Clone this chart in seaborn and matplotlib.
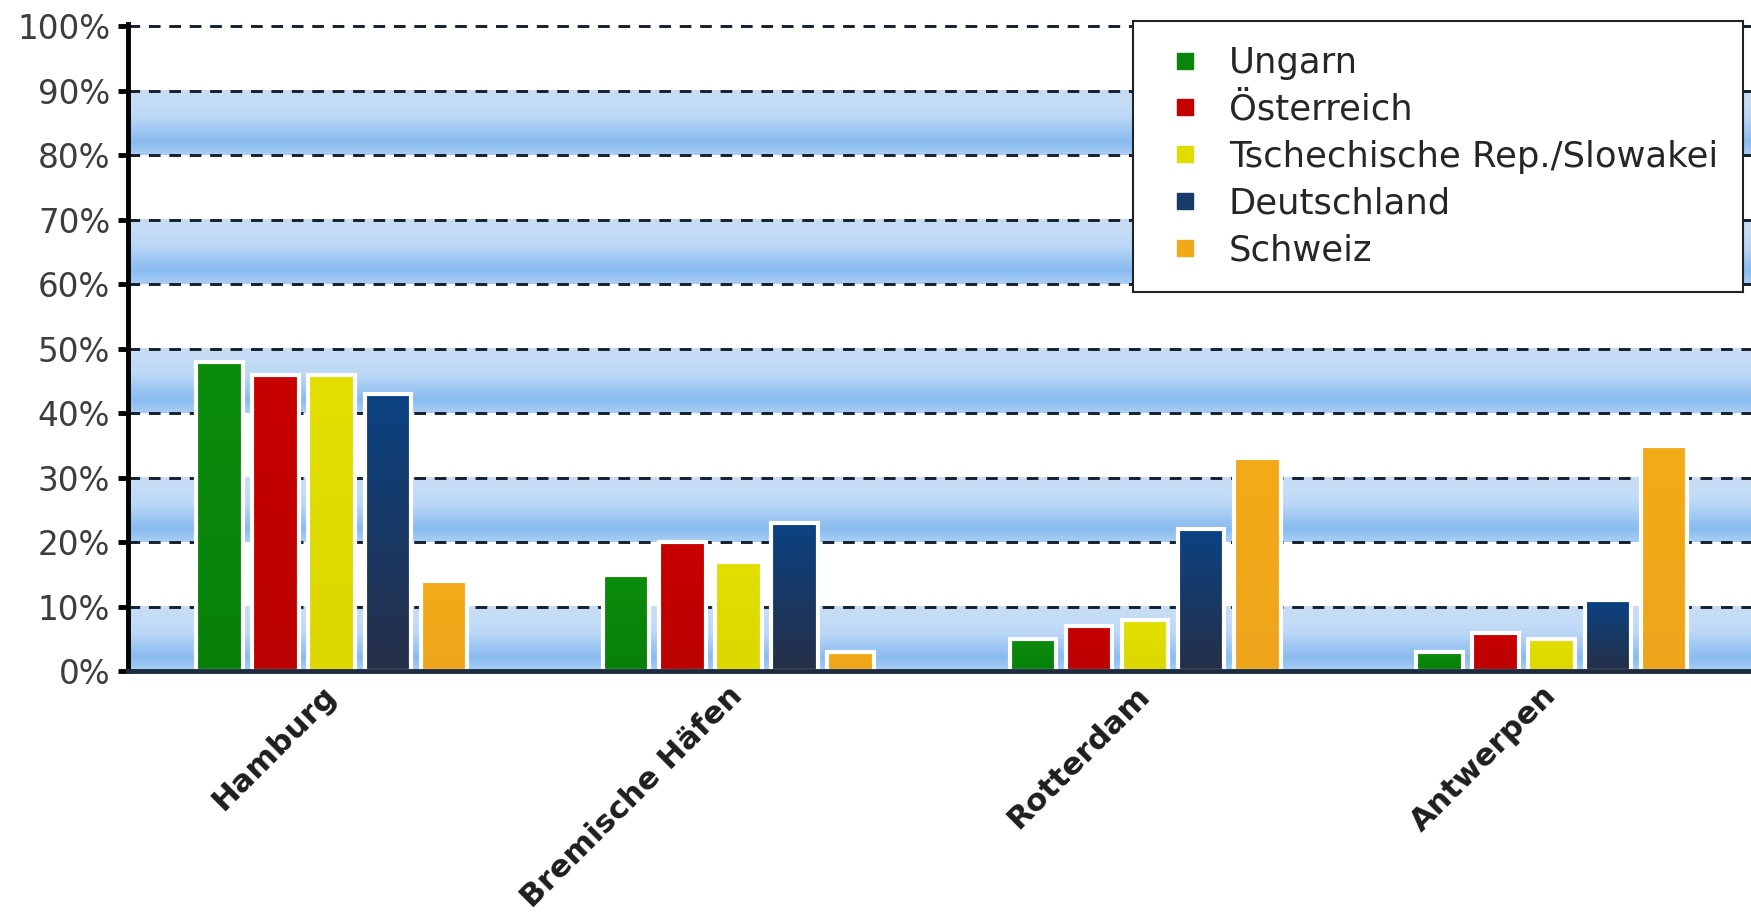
import numpy as np
import pandas as pd
import matplotlib
matplotlib.use("Agg")
import matplotlib.pyplot as plt
import seaborn as sns
from matplotlib.colors import to_rgb
from matplotlib.lines import Line2D

# Anteil je Hafen und Herkunftsland (in %)
ports = ["Hamburg", "Bremische Häfen", "Rotterdam", "Antwerpen"]
countries = ["Ungarn", "Österreich", "Tschechische Rep./Slowakei", "Deutschland", "Schweiz"]
ungarn = [48, 15, 5, 3]
oesterreich = [46, 20, 7, 6]
tschechien = [46, 17, 8, 5]
deutschland = [43, 23, 22, 11]
schweiz = [14, 3, 33, 35]
yticks = list(range(0, 101, 10))

colors = ["#0a870a", "#c40000", "#e0dc00", "#1a3a6a", "#f2a919"]
# top / bottom colours for the bar gradients
grad = {
    "Ungarn": ("#0b8c0b", "#07800a"),
    "Österreich": ("#c80000", "#bb0202"),
    "Tschechische Rep./Slowakei": ("#e2df00", "#dcd800"),
    "Deutschland": ("#0b4282", "#262f48"),
    "Schweiz": ("#f3ab18", "#eea51c"),
}

df = pd.DataFrame({
    "port": ports * 5,
    "country": np.repeat(countries, len(ports)),
    "share": ungarn + oesterreich + tschechien + deutschland + schweiz,
})

sns.set_theme(style="white")
plt.rcParams["font.family"] = ["DejaVu Sans"]

fig = plt.figure(figsize=(17.51, 9.17), dpi=100)
ax = fig.add_axes([0.0733, 0.268, 0.9267, 0.706])
XLIM = (-0.5, 3.49)
YLIM = (0, 100.4)

# blue background bands (0-10, 20-30, ...)
band = np.array([to_rgb(c) for c in ["#c8ddf4", "#c4dcf6", "#bcd8f7", "#a2c9f3", "#88bbf0", "#a9cef5"]])
pos = np.linspace(0, 1, len(band))
t = np.linspace(0, 1, 60)
bg = np.stack([np.interp(t, pos, band[:, i]) for i in range(3)], axis=-1)[:, None, :]
for lo in range(0, 100, 20):
    ax.imshow(bg, extent=(XLIM[0], XLIM[1], lo, lo + 10), aspect="auto", zorder=0,
              interpolation="bilinear")

sns.barplot(data=df, x="port", y="share", hue="country", order=ports, hue_order=countries,
            palette=colors, width=0.69, gap=0.17, edgecolor="white", linewidth=3,
            legend=False, ax=ax)

# vertical gradient inside each bar
for cont, name in zip(ax.containers, countries):
    top, bot = grad[name]
    g = np.linspace(0, 1, 50)[:, None]
    img = (1 - g) * np.array(to_rgb(top)) + g * np.array(to_rgb(bot))
    img = img[:, None, :]
    for p in cont.patches:
        x0, y0 = p.get_x(), p.get_y()
        w, h = p.get_width(), p.get_height()
        im = ax.imshow(img, extent=(x0, x0 + w, y0, y0 + h), aspect="auto", zorder=1.1,
                       interpolation="bilinear")
        im.set_clip_path(p)
        p.set_facecolor("none")
        p.set_zorder(1.2)

ax.set_xlim(*XLIM)
ax.set_ylim(*YLIM)
ax.set_axisbelow(True)
ax.set_yticks(yticks)
ax.set_yticklabels([f"{v}%" for v in yticks])
ax.yaxis.grid(True, linestyle=(0, (4, 3)), color="#15202e", linewidth=2.1)
ax.xaxis.grid(False)
ax.set_xlabel("")
ax.set_ylabel("")

for s in ["top", "right"]:
    ax.spines[s].set_visible(False)
ax.spines["left"].set_color("black")
ax.spines["left"].set_linewidth(3.5)
ax.spines["bottom"].set_color("#1d2c40")
ax.spines["bottom"].set_linewidth(3.5)

ax.tick_params(axis="y", direction="out", length=7, width=3.5, color="black",
               labelsize=23.5, labelcolor="#3d3d3d", pad=6, left=True)
ax.tick_params(axis="x", length=0, pad=14)
for lab in ax.get_xticklabels():
    lab.set_rotation(45)
    lab.set_ha("right")
    lab.set_va("center")
    lab.set_rotation_mode("anchor")
    lab.set_fontsize(22.5)
    lab.set_fontweight("bold")
    lab.set_color("#1e1e1e")

handles = [Line2D([], [], linestyle="none", marker="s", markersize=11.5,
                  markerfacecolor=c, markeredgecolor=c) for c in colors]
leg = ax.legend(handles, countries, loc="upper right", bbox_to_anchor=(0.995, 1.004),
                borderaxespad=0, fontsize=25.5, frameon=True, fancybox=False,
                handlelength=1.5, handletextpad=0.5, labelspacing=0.36, borderpad=0.7)
leg.get_frame().set_edgecolor("#222222")
leg.get_frame().set_linewidth(1.5)
leg.get_frame().set_facecolor("white")
leg.get_frame().set_alpha(1)
leg.set_zorder(5)

fig.savefig("out.png", dpi=100)
